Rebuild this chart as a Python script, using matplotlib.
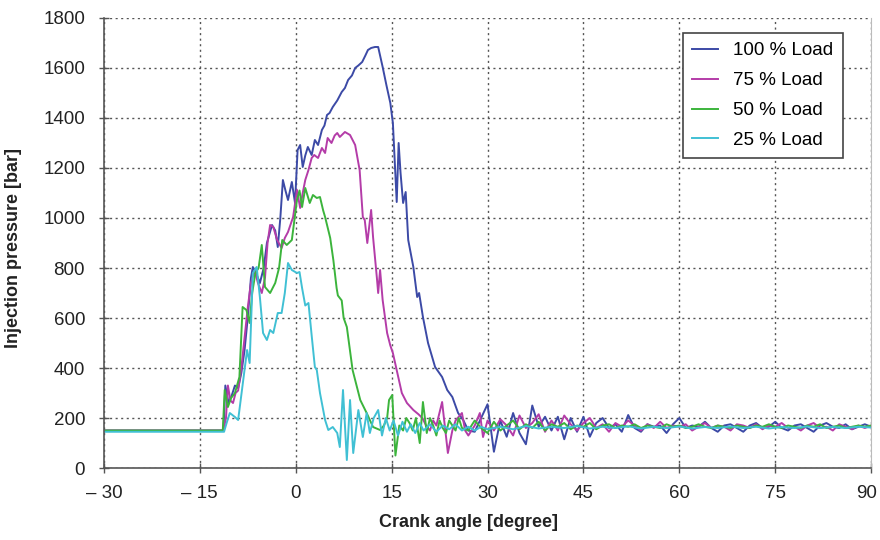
import matplotlib
matplotlib.use("Agg")
import matplotlib.pyplot as plt
from matplotlib import font_manager
from matplotlib.transforms import ScaledTranslation

# ---------------- data ----------------
angle_100 = [-30, -20, -11.3, -11.0, -10.5, -10.0, -9.5, -9.0, -8.5, -8.0, -7.5, -7.0, -6.7, -6.2,
             -5.6, -5.0, -4.5, -3.7, -3.2, -2.8, -2.4, -2.0, -1.6, -1.2, -0.6, -0.1, 0.3, 0.7, 1.1,
             1.5, 1.9, 2.5, 3.0, 3.5, 4.1, 4.5, 4.9, 5.3, 5.8, 6.5, 7.2, 7.7, 8.2, 8.8, 9.3, 9.8,
             10.4, 10.9, 11.3, 11.8, 12.4, 12.9, 13.6, 14.2, 14.8, 15.2, 15.5, 15.8, 16.1, 16.4,
             16.8, 17.2, 17.6, 18.4, 19.0, 19.3, 19.9, 20.7, 21.8, 22.9, 23.7, 24.5, 25.4, 26.2,
             27, 28, 29, 30, 31, 32, 33, 34, 35, 36, 37, 38, 39, 40, 41, 42, 43, 44, 45, 46, 47,
             48, 49, 50, 51, 52, 53, 54, 55, 56, 57, 58, 59, 60, 61, 62, 63, 64, 65, 66, 67, 68,
             69, 70, 71, 72, 73, 74, 75, 76, 77, 78, 79, 80, 81, 82, 83, 84, 85, 86, 87, 88, 89, 90]
p_100 = [150, 150, 150, 330, 260, 290, 330, 320, 380, 470, 600, 760, 804, 780,
         740, 800, 900, 972, 950, 884, 1000, 1152, 1110, 1072, 1144, 1060, 1272, 1292, 1204,
         1250, 1284, 1252, 1312, 1292, 1352, 1370, 1412, 1420, 1444, 1470, 1504, 1520, 1552, 1570, 1600, 1610,
         1624, 1650, 1672, 1680, 1684, 1684, 1604, 1530, 1460, 1380, 1220, 1064, 1300, 1180,
         1060, 1104, 912, 804, 684, 700, 604, 500, 404, 364, 312, 284, 220, 192,
         150, 145, 200, 255, 65, 190, 125, 220, 140, 95, 250, 165, 205, 150, 205, 115, 200, 145, 205, 125, 180,
         200, 160, 175, 145, 212, 160, 145, 175, 165, 170, 140, 175, 200, 160, 170, 165, 185, 160, 145, 170, 175,
         160, 145, 170, 180, 160, 165, 185, 160, 150, 170, 175, 160, 145, 170, 180, 165, 160, 175, 155, 165, 175, 165]

angle_75 = [-30, -20, -11.3, -10.9, -10.6, -10.2, -9.8, -9.4, -9.0, -8.5, -8.0, -7.5, -7.0, -6.4, -5.9,
            -5.3, -4.8, -4.4, -4.0, -3.5, -2.9, -2.2, -1.7, -1.2, -0.4, 0.2, 0.7, 1.1, 1.5, 2.0, 2.5,
            2.9, 3.5, 4.1, 4.6, 5.0, 5.6, 6.1, 6.5, 6.9, 7.7, 8.5, 9.3, 10.0, 10.5, 10.8, 11.2, 11.8,
            12.1, 12.7, 12.9, 13.2, 13.6, 14.3, 14.8, 15.2, 15.8, 16.6, 17.4, 18.4, 19.2, 19.8, 20.5,
            21.0, 21.5, 22.0, 22.9, 23.8, 24.5, 25.0, 26.0, 26.5, 27.0, 28.0, 28.8, 29.3, 30.0,
            31, 32, 33, 34, 35, 36, 37, 38, 39, 40, 41, 42, 43, 44, 45, 46, 47, 48, 49, 50, 51, 52,
            53, 54, 55, 56, 57, 58, 59, 60, 61, 62, 63, 64, 65, 66, 67, 68, 69, 70, 71, 72, 73, 74,
            75, 76, 77, 78, 79, 80, 81, 82, 83, 84, 85, 86, 87, 88, 89, 90]
p_75 = [150, 150, 150, 200, 330, 270, 260, 300, 310, 400, 520, 640, 740, 790, 740,
        700, 760, 900, 972, 964, 912, 880, 920, 944, 1004, 1112, 1040, 1100, 1152, 1192, 1240,
        1252, 1240, 1280, 1260, 1320, 1300, 1330, 1340, 1324, 1344, 1332, 1292, 1192, 1004, 992, 900, 1032,
        924, 760, 700, 792, 672, 540, 490, 460, 392, 300, 260, 232, 215, 200, 165,
        150, 190, 170, 264, 60, 150, 190, 220, 150, 130, 170, 220, 124, 190,
        150, 195, 170, 130, 210, 160, 180, 215, 145, 190, 150, 210, 175, 150, 180, 200, 160, 175, 145, 180, 165, 190,
        170, 150, 175, 160, 185, 160, 170, 165, 175, 150, 165, 180, 160, 170, 165, 150, 175, 170, 160, 175, 155, 170,
        165, 180, 160, 165, 150, 170, 180, 160, 165, 150, 175, 165, 155, 170, 160, 170]

angle_50 = [-30, -20, -11.4, -11.1, -10.6, -10.1, -9.5, -8.8, -8.3, -7.7, -7.2, -6.8, -6.3, -5.8,
            -5.3, -4.8, -4.0, -3.2, -2.6, -2.1, -1.4, -0.6, 0.2, 0.6, 1.0, 1.5, 2.2, 2.7, 3.3, 3.8,
            4.3, 4.6, 5.4, 5.9, 6.4, 6.6, 7.2, 7.5, 8.0, 8.9, 10.1, 11.1, 12.1, 13.2, 13.8, 14.3,
            14.6, 15.1, 15.6, 16.2, 16.8, 17.3, 17.8, 18.3, 18.8, 19.4, 19.9, 20.5, 21.0, 21.5,
            22.0, 22.5, 23.0, 23.5, 24.0, 24.5, 25.0, 25.5, 26, 27, 28, 29, 30,
            31, 32, 33, 34, 35, 36, 37, 38, 39, 40, 41, 42, 43, 44, 45, 46, 47, 48, 49, 50, 51, 52,
            53, 54, 55, 56, 57, 58, 59, 60, 61, 62, 63, 64, 65, 66, 67, 68, 69, 70, 71, 72, 73, 74,
            75, 76, 77, 78, 79, 80, 81, 82, 83, 84, 85, 86, 87, 88, 89, 90]
p_50 = [150, 150, 150, 312, 244, 280, 300, 364, 644, 632, 580, 700, 780, 800,
        892, 724, 700, 740, 800, 912, 892, 912, 1072, 1110, 1044, 1120, 1060, 1092, 1080, 1084,
        1030, 1004, 920, 830, 720, 690, 670, 600, 564, 392, 272, 220, 164, 152, 170, 200,
        272, 292, 50, 170, 150, 200, 180, 150, 200, 100, 264, 140, 200, 170,
        130, 190, 160, 140, 190, 170, 150, 200, 160, 150, 190, 160, 140,
        185, 150, 170, 190, 155, 175, 160, 185, 150, 175, 165, 180, 155, 170, 165, 180, 155, 170, 175, 160, 170, 165,
        175, 160, 170, 165, 160, 175, 165, 170, 160, 165, 175, 165, 160, 170, 165, 160, 170, 165, 160, 170, 165, 175,
        165, 160, 170, 165, 160, 170, 165, 175, 160, 165, 170, 160, 165, 170, 165, 170]

angle_25 = [-30, -20, -11.2, -10.8, -10.3, -9.5, -9.0, -8.4, -7.6, -7.2, -6.7, -6.1, -5.6, -5.1,
            -4.5, -4.0, -3.5, -2.8, -2.2, -1.7, -1.2, -0.6, 0.2, 0.6, 1.0, 1.5, 2.0, 2.5, 3.0, 3.3,
            3.8, 4.6, 5.1, 5.8, 6.5, 6.9, 7.4, 8.0, 8.5, 9.0, 9.8, 10.5, 11.1, 11.6, 12.2, 12.9,
            13.5, 14.1, 14.7, 15.3, 16.0, 16.7, 17.4, 18.0, 18.7, 19.4, 20, 21, 22, 23, 24, 25, 26,
            27, 28, 29, 30, 32, 34, 36, 38, 40, 42, 44, 46, 48, 50, 52, 54, 56, 58, 60, 62, 64, 66,
            68, 70, 72, 74, 76, 78, 80, 82, 84, 86, 88, 90]
p_25 = [145, 145, 145, 180, 220, 204, 192, 312, 472, 420, 780, 804, 684, 540,
        512, 552, 540, 620, 620, 700, 820, 792, 780, 784, 720, 650, 660, 530, 404, 392,
        300, 192, 152, 164, 140, 84, 312, 32, 272, 60, 232, 124, 220, 140, 200, 232,
        130, 200, 150, 190, 130, 185, 145, 175, 140, 180, 150, 175, 145, 170, 155, 175, 150,
        165, 150, 165, 155, 165, 155, 168, 158, 165, 160, 168, 158, 165, 160, 167, 158, 165, 160, 166, 158, 164, 160,
        166, 160, 165, 158, 164, 160, 166, 160, 164, 160, 165, 162]

series_labels = ["100 % Load", "75 % Load", "50 % Load", "25 % Load"]
series_colors = ["#3c4aa6", "#b43ca8", "#3cb43c", "#40c0d4"]
x_ticks = [-30, -15, 0, 15, 30, 45, 60, 75, 90]
x_tick_labels = ["\u2013 30", "\u2013 15", "0", "15", "30", "45", "60", "75", "90"]
y_ticks = [0, 200, 400, 600, 800, 1000, 1200, 1400, 1600, 1800]

# ---------------- fonts ----------------
avail = {f.name for f in font_manager.fontManager.ttflist}
narrow = "Liberation Sans Narrow" if "Liberation Sans Narrow" in avail else "Liberation Sans"
plt.rcParams['font.family'] = [narrow, 'DejaVu Sans']

fig = plt.figure(figsize=(8.8, 5.4), dpi=100)
ax = fig.add_axes([0.118, 0.1333, 0.872, 0.8334])

data = [(angle_100, p_100), (angle_75, p_75), (angle_50, p_50), (angle_25, p_25)]
for (xa, ya), lab, col in zip(data, series_labels, series_colors):
    ax.plot(xa, ya, color=col, lw=1.4, label=lab)

ax.set_xlim(-30, 90)
ax.set_ylim(0, 1800)
ax.set_xticks(x_ticks)
ax.set_xticklabels(x_tick_labels)
ax.set_yticks(y_ticks)
ax.grid(True, color="#555555", linestyle=(0, (1.5, 2.5)), linewidth=1.0)
ax.tick_params(direction="inout", length=7, width=1, color="#555555",
               labelsize=13.5, labelcolor="#222222")
ax.tick_params(axis="y", pad=10)
ax.tick_params(axis="x", pad=9)
for side in ("left", "bottom"):
    ax.spines[side].set_color("#555555")
    ax.spines[side].set_linewidth(1.2)
ax.spines["top"].set_visible(False)
ax.spines["right"].set_color("#bbbbbb")

# nudge the last x tick label ("90") a little to the left so it stays inside the figure
last_lbl = ax.get_xticklabels()[-1]
last_lbl.set_transform(last_lbl.get_transform() + ScaledTranslation(-3 / 72, 0, fig.dpi_scale_trans))

ax.set_xlabel("Crank angle [degree]", fontsize=13, fontweight="bold", color="#222222")
ax.set_ylabel("Injection pressure [bar]", fontsize=13, fontweight="bold", color="#222222")
ax.xaxis.set_label_coords(0.475, -0.102)
ax.yaxis.set_label_coords(-0.106, 0.49)

leg = ax.legend(loc="upper right", bbox_to_anchor=(0.963, 0.967), fontsize=13.5,
                frameon=True, fancybox=False, handlelength=1.4, handletextpad=0.8,
                borderpad=0.5, labelspacing=0.68, borderaxespad=0)
leg.get_frame().set_edgecolor("#444444")
leg.get_frame().set_linewidth(1.2)
leg.get_frame().set_alpha(1)

fig.savefig("out.png", dpi=100)
